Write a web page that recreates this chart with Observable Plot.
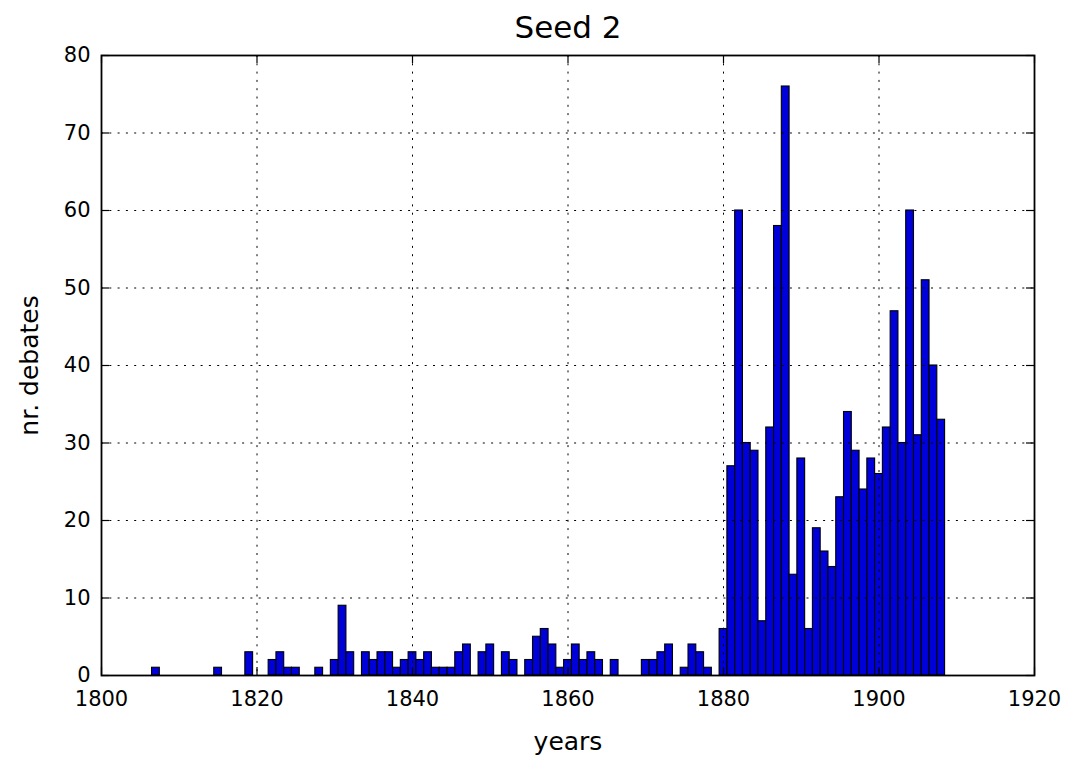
<!DOCTYPE html>
<html>
<head>
<meta charset="utf-8">
<script src="https://cdn.jsdelivr.net/npm/d3@7"></script>
<script src="https://cdn.jsdelivr.net/npm/@observablehq/plot@0.6"></script>
<style>
  html, body { margin: 0; padding: 0; background: #fff; }
  svg { font-family: "DejaVu Sans", sans-serif; }
</style>
</head>
<body>
<div id="chart"></div>
<script>
// ---- data ----
const title = "Seed 2";
const xLabel = "years";
const yLabel = "nr. debates";
const years = [1807, 1815, 1819, 1822, 1823, 1824, 1825, 1828, 1830, 1831, 1832,
  1834, 1835, 1836, 1837, 1838, 1839, 1840, 1841, 1842, 1843, 1844, 1845, 1846, 1847,
  1849, 1850, 1852, 1853, 1855, 1856, 1857, 1858, 1859, 1860, 1861, 1862, 1863, 1864,
  1866, 1870, 1871, 1872, 1873, 1875, 1876, 1877, 1878,
  1880, 1881, 1882, 1883, 1884, 1885, 1886, 1887, 1888, 1889, 1890, 1891, 1892, 1893,
  1894, 1895, 1896, 1897, 1898, 1899, 1900, 1901, 1902, 1903, 1904, 1905, 1906, 1907, 1908];
const counts = [1, 1, 3, 2, 3, 1, 1, 1, 2, 9, 3,
  3, 2, 3, 3, 1, 2, 3, 2, 3, 1, 1, 1, 3, 4,
  3, 4, 3, 2, 2, 5, 6, 4, 1, 2, 4, 2, 3, 2,
  2, 2, 2, 3, 4, 1, 4, 3, 1,
  6, 27, 60, 30, 29, 7, 32, 58, 76, 13, 28, 6, 19, 16,
  14, 23, 34, 29, 24, 28, 26, 32, 47, 30, 60, 31, 51, 40, 33];
const xTicks = [1800, 1820, 1840, 1860, 1880, 1900, 1920];
const yTicks = [0, 10, 20, 30, 40, 50, 60, 70, 80];
const binWidth = 1;

const data = years.map((y, i) => ({year: y, count: counts[i]}));

// ---- layout ----
const W = 1076, H = 759;
const mL = 101, mR = 42, mT = 55, mB = 84;
const fw = W - mL - mR, fh = H - mT - mB;
const tickLen = 8;
const dotted = "2,6.3";

const chart = Plot.plot({
  width: W, height: H,
  marginLeft: mL, marginRight: mR, marginTop: mT, marginBottom: mB,
  style: {fontFamily: "DejaVu Sans, sans-serif", fontSize: "21px", color: "#000", background: "#fff", overflow: "visible"},
  x: {domain: [1800, 1920]},
  y: {domain: [0, 80]},
  marks: [
    Plot.rectY(data, {
      x1: d => d.year - binWidth / 2, x2: d => d.year + binWidth / 2, y: "count",
      fill: "#0000d8", stroke: "#000", strokeWidth: 1.1, inset: 0
    }),
    Plot.ruleX(xTicks.slice(1, -1), {stroke: "#000", strokeWidth: 1, strokeDasharray: dotted}),
    Plot.ruleY(yTicks.slice(1, -1), {stroke: "#000", strokeWidth: 1, strokeDasharray: dotted}),
    // inward ticks on all four sides
    Plot.ruleX(xTicks, {stroke: "#000", strokeWidth: 1.2, insetTop: fh - tickLen}),
    Plot.ruleX(xTicks, {stroke: "#000", strokeWidth: 1.2, insetBottom: fh - tickLen}),
    Plot.ruleY(yTicks, {stroke: "#000", strokeWidth: 1.2, insetRight: fw - tickLen}),
    Plot.ruleY(yTicks, {stroke: "#000", strokeWidth: 1.2, insetLeft: fw - tickLen}),
    Plot.frame({stroke: "#000", strokeWidth: 1.8}),
    Plot.axisX(xTicks, {tickSize: 0, tickPadding: 16, label: null, fontSize: 21, tickFormat: d => String(d)}),
    Plot.axisY(yTicks, {tickSize: 0, tickPadding: 11, label: null, fontSize: 21}),
    Plot.text([title], {text: d => d, frameAnchor: "top", textAnchor: "middle", lineAnchor: "middle", dy: -27, fontSize: 31}),
    Plot.text([xLabel], {text: d => d, frameAnchor: "bottom", textAnchor: "middle", lineAnchor: "middle", dy: 66, fontSize: 25}),
    Plot.text([yLabel], {text: d => d, frameAnchor: "left", textAnchor: "middle", lineAnchor: "middle", dx: -72, rotate: -90, fontSize: 25})
  ]
});
document.getElementById("chart").append(chart);
</script>
</body>
</html>
